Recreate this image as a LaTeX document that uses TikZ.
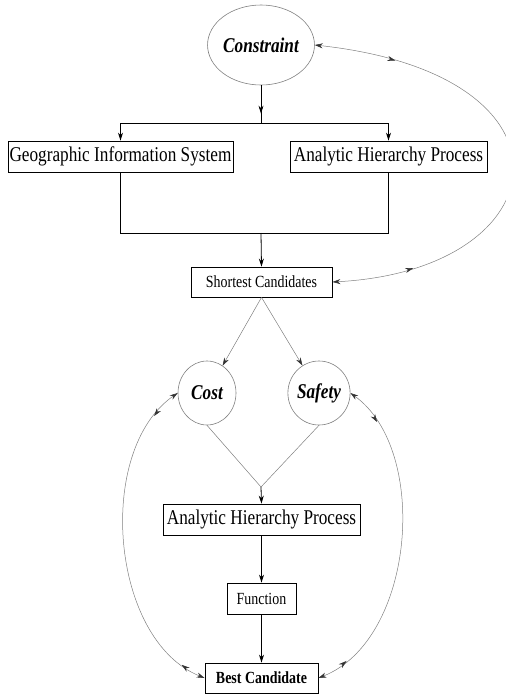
\documentclass[tikz,border=0pt]{standalone}
\usepackage{fontspec}
\setmainfont{Liberation Serif}[FakeStretch=0.82]
\usetikzlibrary{arrows.meta,decorations.markings,shapes.geometric}

\begin{document}
\begin{tikzpicture}[x=1pt,y=-1pt,
  every node/.style={font=\fontsize{21}{24}\selectfont, inner sep=0pt},
  box/.style={draw, line width=0.8pt, minimum height=31pt},
  smallbox/.style={box, font=\fontsize{17}{20}\selectfont},
  bubble/.style={draw=gray, line width=0.6pt, ellipse, font=\fontsize{21}{24}\selectfont\bfseries\itshape},
  link/.style={line width=0.8pt, -{Stealth[length=8pt,width=5pt]}},
  thinlink/.style={draw=gray, line width=0.5pt, -{Stealth[length=8pt,width=5pt,black!80]}},
  midtip/.style={postaction={decorate}, decoration={markings,
    mark=at position #1 with {\arrow{Stealth[length=8pt,width=5pt]}}}},
  twoway/.style 2 args={draw=gray, line width=0.5pt,
    {Stealth[length=8pt,width=5pt,black!80]}-{Stealth[length=8pt,width=5pt,black!80]},
    postaction={decorate}, decoration={markings,
    mark=at position #1 with {\arrow{Stealth[length=8pt,width=5pt,black!80]}},
    mark=at position #2 with {\arrowreversed{Stealth[length=8pt,width=5pt,black!80]}}}}]
  \useasboundingbox (0,0) rectangle (506,694);
  \coordinate (fork) at (261,123);
  \coordinate (merge) at (261,233);
  \coordinate (join) at (261,487);
  \node[bubble, minimum width=97pt, minimum height=80pt] (con) at (261,45) {Constraint};
  \node[box, minimum width=225pt] (gis) at (120.5,156.5) {Geographic Information System};
  \node[box, minimum width=197pt] (ahp) at (388.5,156.5) {Analytic Hierarchy Process};
  \node[smallbox, minimum width=141pt, minimum height=30pt] (sc) at (261.5,282) {Shortest Candidates};
  \node[bubble, minimum width=58pt, minimum height=64pt] (cost) at (207,393) {Cost};
  \node[bubble, minimum width=58pt, minimum height=64pt] (safe) at (319,393) {Safety};
  \node[box, minimum width=197pt] (ahpb) at (261.5,519.5) {Analytic Hierarchy Process};
  \node[smallbox, minimum width=69pt] (fun) at (261.5,598.5) {Function};
  \node[smallbox, minimum width=113pt, minimum height=30pt,
    font=\fontsize{17}{20}\selectfont\bfseries] (best) at (261.5,678) {Best Candidate};
  \draw[line width=0.8pt, midtip=0.75] (con.south) -- (fork);
  \draw[line width=0.8pt] (gis.north |- fork) -- (ahp.north |- fork);
  \draw[link] (gis.north |- fork) -- (gis.north);
  \draw[link] (ahp.north |- fork) -- (ahp.north);
  \draw[line width=0.8pt] (gis.south) -- (gis.south |- merge) -- (ahp.south |- merge) -- (ahp.south);
  \draw[link] (merge) -- (sc.north);
  \draw[thinlink] (sc.south) -- (cost);
  \draw[thinlink] (sc.south) -- (safe);
  \draw[draw=gray, line width=0.5pt] (cost.south) -- (join) -- (safe.south);
  \draw[link] (join) -- (ahpb.north);
  \draw[link] (ahpb.south) -- (fun.north);
  \draw[link] (fun.south) -- (best.north);
  \draw[twoway={0.17}{0.83}] (con.east) .. controls (590,75) and (560,270) .. (sc.east);
  \draw[twoway={0.1}{0.92}] (cost.west) .. controls (95,450) and (110,640) .. (best.west);
  \draw[twoway={0.12}{0.9}] (safe.east) .. controls (430,450) and (415,640) .. (best.east);
\end{tikzpicture}
\end{document}
